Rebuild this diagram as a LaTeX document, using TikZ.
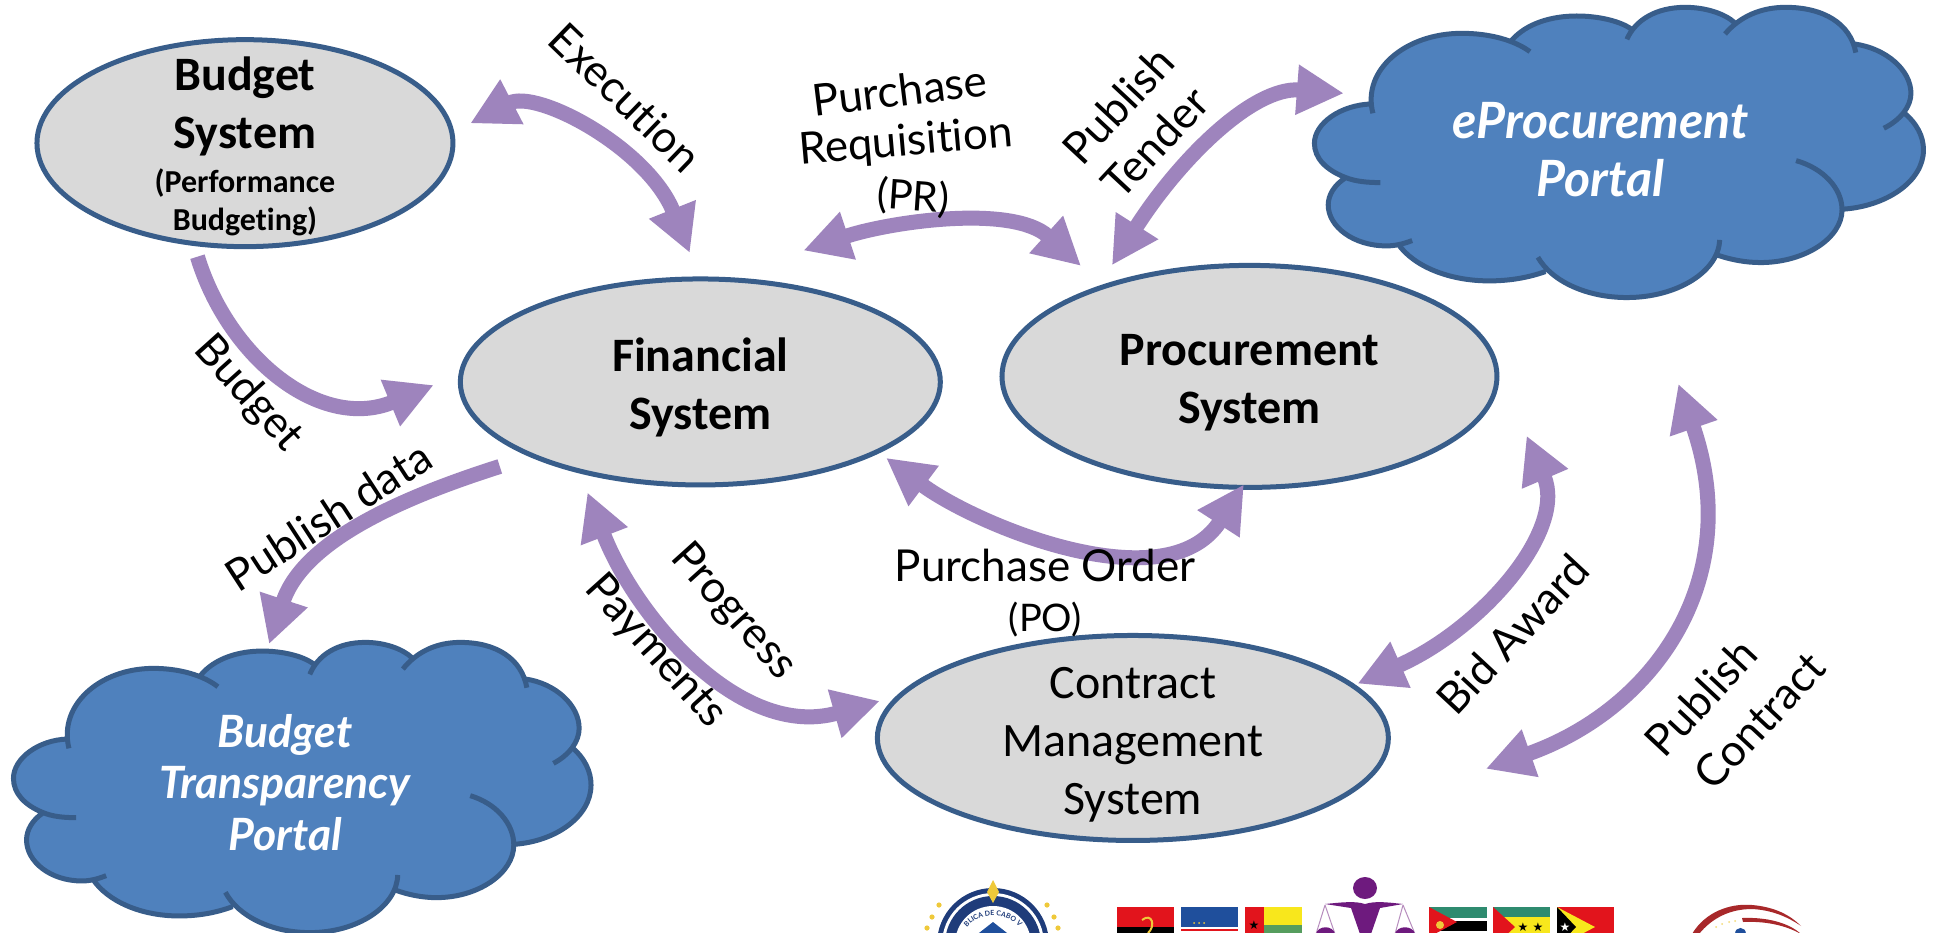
\documentclass[tikz,border=0pt]{standalone}
\usepackage{fontspec}
\setmainfont{Lato}[Ligatures=NoCommon]
\newfontfamily\calib{Carlito}[Ligatures=NoCommon]
\newfontfamily\symfont{DejaVu Sans}
\usetikzlibrary{arrows.meta,shapes.geometric,decorations.text}
\definecolor{cloudfill}{HTML}{4F81BD}
\definecolor{edgeblue}{HTML}{385D8A}
\definecolor{sysgray}{HTML}{D9D9D9}
\definecolor{flowpurple}{HTML}{9E84BD}
\definecolor{sealblue}{HTML}{1F3C7A}
\definecolor{gold}{HTML}{EFC93A}
\definecolor{scalepurple}{HTML}{6E1A7E}
\definecolor{flagred}{HTML}{E2141C}
\definecolor{flaggreen}{HTML}{2E8B6F}
\definecolor{flagyellow}{HTML}{F8E71C}
\definecolor{flagblue}{HTML}{1F4F9C}
\definecolor{logored}{HTML}{A8282A}
\newcommand\labfont{\fontsize{44}{52}\selectfont}
\newcommand\lowerstrut[1]{\rule{0pt}{#1}}
\tikzset{
  system/.style={ellipse,draw=edgeblue,fill=sysgray,line width=5pt,inner xsep=0pt,inner ysep=-45pt,align=center,text=black,font=\calib\fontsize{48}{58}\selectfont},
  systembold/.style={system,font=\calib\fontsize{48}{58}\selectfont\bfseries},
  flowboth/.style={draw=flowpurple,line width=15pt,{Triangle[length=47pt,width=47pt]}-{Triangle[length=47pt,width=47pt]}},
  flowone/.style={draw=flowpurple,line width=15pt,-{Triangle[length=47pt,width=47pt]}},
  lab/.style={inner sep=0pt,text=black,align=center,font=\labfont},
  cloudtext/.style={inner sep=0pt,text=white,align=center,font=\fontsize{50}{58}\selectfont\bfseries\itshape},
  cloudtextsmall/.style={cloudtext,font=\fontsize{44.5}{51.5}\selectfont\bfseries\itshape},
  cloudline/.style={draw=edgeblue,line width=5pt,line cap=butt},
  cloudbody/.style={fill=cloudfill,draw=cloudfill,line width=1.5pt},
  flagstar/.style={inner sep=0pt,font=\symfont\fontsize{12}{12}\selectfont}
}
\def\cloudpath{
 (222,340) .. controls (195,210) and (300,100) .. (435,100) .. controls (500,100) and (560,120) .. (598,155)
 (555,120) .. controls (590,70) and (650,48) .. (710,48) .. controls (760,48) and (810,62) .. (838,85)
 (830,118) .. controls (850,60) and (900,22) .. (970,22) .. controls (1020,22) and (1065,42) .. (1088,68)
 (1065,102) .. controls (1100,50) and (1150,22) .. (1210,22) .. controls (1300,22) and (1365,70) .. (1378,158)
 (1375,132) .. controls (1450,145) and (1510,210) .. (1510,280) .. controls (1510,320) and (1485,360) .. (1445,385)
 (1490,335) .. controls (1525,370) and (1540,410) .. (1540,450) .. controls (1540,545) and (1450,620) .. (1345,628)
 (1235,482) .. controls (1300,505) and (1345,565) .. (1345,630) .. controls (1345,715) and (1255,788) .. (1150,788) .. controls (1115,788) and (1080,780) .. (1045,765)
 (1052,720) .. controls (1050,815) and (950,893) .. (830,893) .. controls (735,893) and (650,845) .. (617,772)
 (635,815) .. controls (590,835) and (545,843) .. (500,843) .. controls (405,843) and (320,800) .. (282,732)
 (316,722) .. controls (295,732) and (275,738) .. (255,738) .. controls (175,738) and (115,680) .. (115,615) .. controls (115,585) and (130,555) .. (155,535)
 (240,548) .. controls (210,548) and (180,545) .. (155,532) .. controls (110,510) and (82,475) .. (82,430) .. controls (82,370) and (145,315) .. (218,312)
}
\newcommand\drawcloud[4]{%
  \begin{scope}[x=#3*1.23406pt,y=-#4*1.23406pt,shift={(#1/#3,#2/#4)}]
    \path[cloudbody] (218,312) -- (555,120) -- (835,85) -- (1085,68) -- (1375,132) -- (1490,335) -- (1345,628) -- (1045,765) -- (635,815) -- (282,732) -- (155,535) -- cycle;
    \path[cloudbody] \cloudpath;
    \draw[cloudline] \cloudpath;
  \end{scope}}
\begin{document}
\begin{tikzpicture}[x=1.23406pt,y=-1.23406pt]
\clip (0,0) rectangle (1568,756.04);
\fill[white] (0,0) rectangle (1568,756.04);

% clouds
\drawcloud{1037.3}{0}{0.3385}{0.27}
\drawcloud{-15.4}{514.6}{0.321}{0.27}
\node[cloudtext] (eproc) at (1297,121) {eProcurement\\Portal};
\node[cloudtextsmall] (transp) at (231,634) {Budget\\Transparency\\Portal};

% systems
\node[systembold,minimum width=416pt,minimum height=207pt] (budget) at (198.5,116)
  {\lowerstrut{40pt}Budget\\[0pt] System\\[-14pt] \fontsize{32}{37}\selectfont (Performance\\[-20pt] \fontsize{32}{37}\selectfont Budgeting)};
\node[systembold,minimum width=480pt,minimum height=206pt] (financial) at (567.5,309.5)
  {\lowerstrut{44pt}Financial\\ System};
\node[systembold,minimum width=495pt,minimum height=222pt] (procurement) at (1012.5,305)
  {\lowerstrut{44pt}Procurement\\ System};
\node[system,minimum width=511pt,minimum height=205pt] (contract) at (918,598)
  {\lowerstrut{44pt}Contract\\ Management\\ System};

% connector ends
\coordinate (execA) at (381,100);  \coordinate (execB) at (559,205);
\coordinate (budA) at (160,208);   \coordinate (budB) at (351.5,312);
\coordinate (pubA) at (405,378);   \coordinate (pubB) at (218,522);
\coordinate (prA) at (651,203);    \coordinate (prB) at (876,215.5);
\coordinate (tenA) at (901,215);   \coordinate (tenB) at (1089,75.6);
\coordinate (payA) at (476,399);   \coordinate (payB) at (713,568);
\coordinate (poA) at (718,371);    \coordinate (poB) at (1008,392.5);
\coordinate (bidA) at (1237,353);  \coordinate (bidB) at (1100,554);
\coordinate (conA) at (1360,311);  \coordinate (conB) at (1204,623);

\draw[flowboth] (execA) .. controls (435,72) and (525,120) .. (execB);
\draw[flowone]  (budA) .. controls (185,290) and (260,350) .. (budB);
\draw[flowone]  (pubA) .. controls (320,405) and (245,440) .. (pubB);
\draw[flowboth] (prA) .. controls (720,180) and (820,165) .. (prB);
\draw[flowboth] (tenA) .. controls (955,130) and (1015,70) .. (tenB);
\draw[flowboth] (payA) .. controls (515,500) and (600,600) .. (payB);
\draw[flowboth] (poA) .. controls (790,425) and (945,490) .. (poB);
\draw[flowboth] (bidA) .. controls (1270,430) and (1200,510) .. (bidB);
\draw[flowboth] (conA) .. controls (1415,470) and (1340,575) .. (conB);

% labels
\node[lab,rotate=-44] (lexec) at (507,79) {Execution};
\node[lab,rotate=-48] (lbud) at (201,319) {Budget};
\node[lab,rotate=33] (lpub) at (266,418) {Publish data};
\node[lab,rotate=7] (lpr1) at (729,73) {Purchase};
\node[lab,rotate=5] (lpr2) at (734,116) {Requisition};
\node[lab,rotate=-4,font=\fontsize{41}{48}\selectfont] (lpr3) at (740,160) {(PR)};
\node[lab,rotate=47] (lten1) at (906,85) {Publish};
\node[lab,rotate=47] (lten2) at (936,115) {Tender};
\node[lab,rotate=-48] (lprog) at (594,496) {Progress};
\node[lab,rotate=-48] (lpay) at (531,528) {Payments};
\node[lab] (lpo1) at (847,458) {Purchase Order};
\node[lab,font=\fontsize{38}{44}\selectfont] (lpo2) at (847,502) {(PO)};
\node[lab,rotate=47] (lbid) at (1226,514) {Bid Award};
\node[lab,rotate=47] (lcon1) at (1378,565) {Publish};
\node[lab,rotate=47] (lcon2) at (1426,584) {Contract};

% logos along the bottom edge (pixel units)
\begin{scope}[x=1pt,y=-1pt]
  % seal
  \fill[sealblue] (993,944) circle[radius=56];
  \fill[white] (993,944) circle[radius=51];
  \fill[sealblue] (993,944) circle[radius=48];
  \fill[white] (993,944) circle[radius=38];
  \fill[flagblue] (993,922) -- (1016,940) -- (970,940) -- cycle;
  \fill[gold] (993,880) -- (999,892) -- (993,903) -- (987,892) -- cycle;
  \foreach \px/\py in {939/905,932/917,927/928,1047/905,1054/917,1058/928}
    \fill[gold] (\px,\py) circle[radius=2.6];
  \path[decorate,decoration={text along path,text align=center,text color=sealblue,
     text={|\fontsize{7}{7}\selectfont\bfseries|BLICA DE CABO V}}]
     (963,933) .. controls (975,910) and (1011,910) .. (1023,933);
  % Angola
  \fill[flagred] (1117,907) rectangle (1174,927);
  \fill[black] (1117,927) rectangle (1174,934);
  \draw[gold,line width=2pt] (1142,920) .. controls (1152,912) and (1156,926) .. (1148,933);
  % Cape Verde
  \fill[flagblue] (1181,907) rectangle (1238,927);
  \fill[white] (1181,927) rectangle (1238,934);
  \fill[flagred] (1181,929) rectangle (1238,931);
  \foreach \px in {1194,1199,1204}
    \fill[gold] (\px,923) circle[radius=1];
  % Guinea-Bissau
  \fill[flagred] (1245,907) rectangle (1264,934);
  \fill[flagyellow] (1264,907) rectangle (1302,925);
  \fill[flaggreen!80!flagyellow] (1264,925) rectangle (1302,934);
  \node[flagstar,text=black] (gbstar) at (1254,925) {★};
  % scales figure
  \fill[scalepurple] (1365,888) ellipse[x radius=12,y radius=11];
  \fill[scalepurple] (1325,904) .. controls (1345,902) and (1355,901) .. (1365,904) .. controls (1375,901) and (1385,902) .. (1403,904) -- (1380,908) -- (1371,934) -- (1360,934) -- (1351,908) -- cycle;
  \draw[scalepurple!50,line width=1pt] (1325,905) -- (1316,934) (1325,905) -- (1335,934) (1403,905) -- (1395,934) (1403,905) -- (1415,934);
  \fill[scalepurple] (1316,934) .. controls (1318,925) and (1333,925) .. (1335,934) -- cycle;
  \fill[scalepurple] (1395,934) .. controls (1397,925) and (1413,925) .. (1415,934) -- cycle;
  % Mozambique
  \fill[flaggreen] (1429,907) rectangle (1487,918);
  \fill[white] (1429,918) rectangle (1487,934);
  \fill[black] (1429,921) rectangle (1487,931);
  \fill[flagred] (1429,907) -- (1457,922) -- (1429,937) -- cycle;
  \fill[gold] (1440,925) circle[radius=4];
  % Sao Tome
  \fill[flaggreen] (1493,907) rectangle (1550,917);
  \fill[flagyellow] (1493,917) rectangle (1550,934);
  \fill[flagred] (1493,907) -- (1515,927) -- (1493,947) -- cycle;
  \node[flagstar,text=black] (ststar1) at (1523,927) {★};
  \node[flagstar,text=black] (ststar2) at (1538,927) {★};
  % Timor
  \fill[flagred] (1557,907) rectangle (1614,934);
  \fill[flagyellow] (1557,907) -- (1595,927) -- (1557,947) -- cycle;
  \fill[black] (1557,907) -- (1576,927) -- (1557,947) -- cycle;
  \node[flagstar,text=white] (tlstar) at (1565,927) {★};
  % right logo
  \fill[logored] (1692,934) .. controls (1705,912) and (1730,903) .. (1752,905) .. controls (1775,907) and (1790,915) .. (1801,926) .. controls (1788,917) and (1772,910) .. (1752,909) .. controls (1730,909) and (1712,918) .. (1699,934) -- cycle;
  \fill[logored] (1742,918) .. controls (1765,917) and (1788,922) .. (1801,934) .. controls (1785,925) and (1765,921) .. (1743,922) -- cycle;
  \foreach \px/\py in {1716/927,1722/924,1729/922,1735/921}
    \fill[gold!70] (\px,\py) circle[radius=1];
  \fill[flagblue] (1735,934) .. controls (1735,926) and (1746,926) .. (1746,934) -- cycle;
\end{scope}
\end{tikzpicture}
\end{document}
